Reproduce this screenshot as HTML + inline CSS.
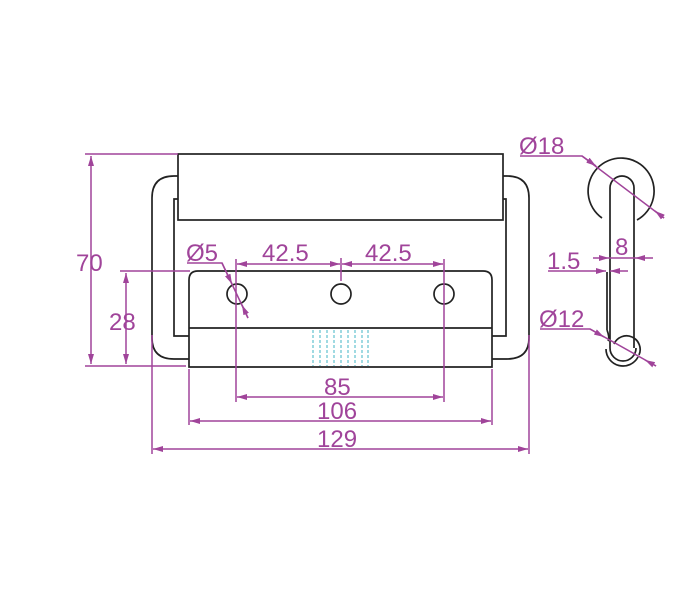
<!DOCTYPE html>
<html><head><style>body{margin:0;background:#fff}svg{display:block}</style></head><body>
<svg width="700" height="600" viewBox="0 0 700 600" xmlns="http://www.w3.org/2000/svg" font-family="Liberation Sans, sans-serif">
<defs>
<marker id="a" viewBox="0 0 10 6" refX="10" refY="3" markerWidth="10" markerHeight="6" orient="auto-start-reverse" markerUnits="userSpaceOnUse"><path d="M0,0L10,3L0,6z" fill="#a0449a"/></marker>
</defs>
<g fill="none" stroke="#222" stroke-width="1.7">
<rect x="178" y="154" width="325" height="66"/>
<path d="M178,176 H174 Q152,176 152,198 V338 Q152,359 174,359 H189"/>
<path d="M503,176 H507 Q529,176 529,198 V338 Q529,359 507,359 H492"/>
<path d="M178,199 H174 V336 H189"/>
<path d="M503,199 H506 V336 H492"/>
<path d="M189,367 V280 Q189,271 198,271 H483 Q492,271 492,280 V367 Z"/>
<line x1="189" y1="328" x2="492" y2="328"/>
<circle cx="237" cy="294" r="10"/>
<circle cx="341" cy="294" r="10"/>
<circle cx="444" cy="294" r="10"/>
<path d="M602,218 A33,33 0 1 1 637,220"/>
<path d="M610,348 V188 A12,12 0 0 1 634,188 V348"/>
<path d="M607,330 V272 M607,330 Q610,338 608,341"/>
<path d="M610,348 A13,13 0 0 0 636,348 M614,344 A13,13 0 1 1 639,355 M606,349 A17,17 0 0 0 638,357"/>
</g>
<g stroke="#62c2cf" stroke-width="1.2" stroke-dasharray="3,2">
<path d="M313,330V366M320,330V366M327,330V366M334,330V366M341,330V366M348,330V366M355,330V366M362,330V366M368,330V366"/>
</g>
<g stroke="#a0449a" stroke-width="1.5" fill="none">
<line x1="85" y1="154" x2="178" y2="154"/><line x1="85" y1="366" x2="186" y2="366"/>
<line x1="91" y1="156" x2="91" y2="364" marker-start="url(#a)" marker-end="url(#a)"/>
<line x1="120" y1="271" x2="190" y2="271"/>
<line x1="126" y1="273" x2="126" y2="364" marker-start="url(#a)" marker-end="url(#a)"/>
<line x1="236" y1="259" x2="236" y2="402"/><line x1="444" y1="259" x2="444" y2="402"/>
<line x1="341" y1="258" x2="341" y2="281"/>
<line x1="237" y1="264" x2="340" y2="264" marker-start="url(#a)" marker-end="url(#a)"/>
<line x1="342" y1="264" x2="443" y2="264" marker-start="url(#a)" marker-end="url(#a)"/>
<line x1="237" y1="397" x2="443" y2="397" marker-start="url(#a)" marker-end="url(#a)"/>
<line x1="189" y1="369" x2="189" y2="425"/><line x1="492" y1="369" x2="492" y2="425"/>
<line x1="190" y1="421" x2="491" y2="421" marker-start="url(#a)" marker-end="url(#a)"/>
<line x1="152" y1="335" x2="152" y2="454"/><line x1="529" y1="335" x2="529" y2="454"/>
<line x1="153" y1="449" x2="528" y2="449" marker-start="url(#a)" marker-end="url(#a)"/>
<polyline points="187,263 222,263 248,318"/>
<line x1="222" y1="263" x2="232" y2="284" marker-end="url(#a)"/>
<line x1="248" y1="318" x2="242" y2="305" marker-end="url(#a)"/>
<polyline points="520,156 582,156 664,218"/>
<line x1="582" y1="156" x2="596" y2="166" marker-end="url(#a)"/>
<line x1="664" y1="218" x2="655" y2="211" marker-end="url(#a)"/>
<line x1="593" y1="258" x2="609" y2="258" marker-end="url(#a)"/>
<line x1="653" y1="258" x2="635" y2="258" marker-end="url(#a)"/>
<line x1="609" y1="258" x2="635" y2="258"/>
<line x1="548" y1="271" x2="606" y2="271" marker-end="url(#a)"/>
<line x1="628" y1="271" x2="610" y2="271" marker-end="url(#a)"/>
<polyline points="540,329 590,329 656,366"/>
<line x1="590" y1="329" x2="604" y2="337" marker-end="url(#a)"/>
<line x1="656" y1="366" x2="645" y2="360" marker-end="url(#a)"/>
</g>
<g fill="#a0449a" font-size="24">
<text x="76" y="271">70</text>
<text x="109" y="330">28</text>
<text x="186" y="261">Ø5</text>
<text x="262" y="261">42.5</text>
<text x="365" y="261">42.5</text>
<text x="324" y="395">85</text>
<text x="317" y="419">106</text>
<text x="317" y="447">129</text>
<text x="519" y="154">Ø18</text>
<text x="615" y="255">8</text>
<text x="547" y="269">1.5</text>
<text x="539" y="327">Ø12</text>
</g>
</svg>
</body></html>
